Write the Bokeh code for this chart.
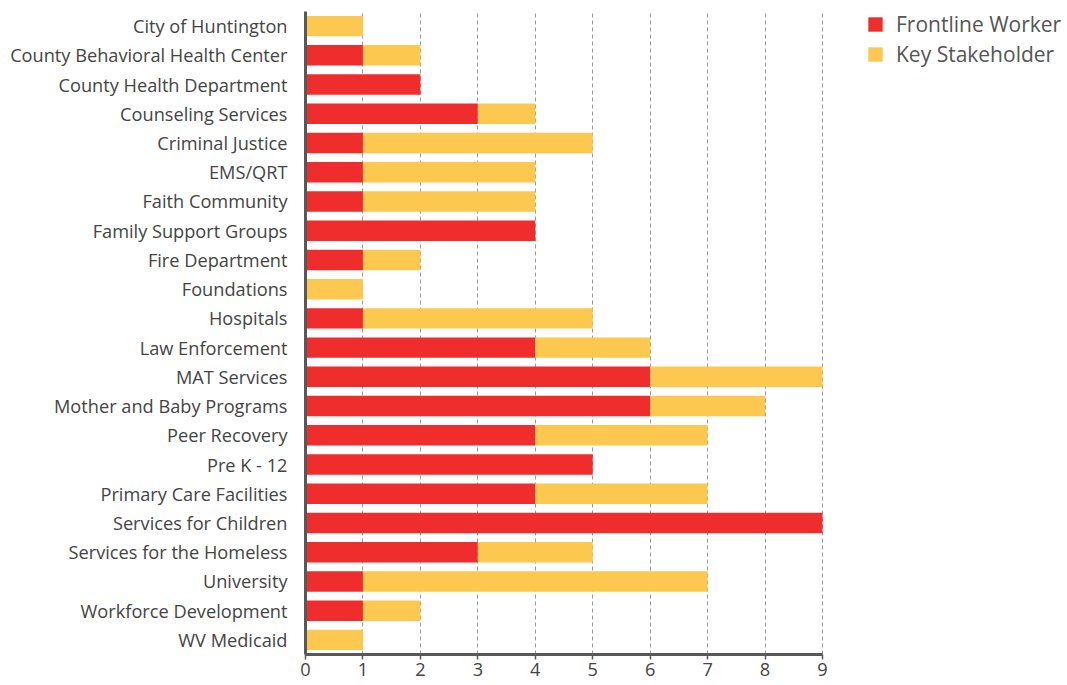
from bokeh.plotting import figure
from bokeh.models import FactorRange, Range1d, Legend, LegendItem
from bokeh.embed import file_html
from bokeh.resources import INLINE

categories = [
    "City of Huntington", "County Behavioral Health Center", "County Health Department",
    "Counseling Services", "Criminal Justice", "EMS/QRT", "Faith Community",
    "Family Support Groups", "Fire Department", "Foundations", "Hospitals",
    "Law Enforcement", "MAT Services", "Mother and Baby Programs", "Peer Recovery",
    "Pre K - 12", "Primary Care Facilities", "Services for Children",
    "Services for the Homeless", "University", "Workforce Development", "WV Medicaid",
]
frontline = [0, 1, 2, 3, 1, 1, 1, 4, 1, 0, 1, 4, 6, 6, 4, 5, 4, 9, 3, 1, 1, 0]
stakeholder = [1, 1, 0, 1, 4, 3, 3, 0, 1, 1, 4, 2, 3, 2, 3, 0, 3, 0, 2, 6, 1, 1]
series = ["Frontline Worker", "Key Stakeholder"]
colors = ["#EF2D2D", "#FCC84F"]
x_ticks = [0, 1, 2, 3, 4, 5, 6, 7, 8, 9]

FONT = "Open Sans"
TEXT = "#444444"
AXIS = "#585858"

W, H = 1067, 685
LEFT, TOP, BOTTOM = 305, 11, 31
AXIS_PX = 517          # pixel length of the 0..9 axis
frame_w = W - LEFT
x_max = max(x_ticks)
x_end = x_max * frame_w / AXIS_PX   # frame extends right to hold the legend

p = figure(
    width=W, height=H,
    y_range=FactorRange(factors=list(reversed(categories))),
    x_range=Range1d(0, x_end),
    output_backend="svg", toolbar_location=None,
    min_border_left=LEFT, min_border_right=0, min_border_top=TOP, min_border_bottom=BOTTOM,
)
p.outline_line_color = None

data = {"cat": categories, series[0]: frontline, series[1]: stakeholder}
renderers = p.hbar_stack(series, y="cat", height=0.7, color=colors, source=data,
                         line_color=None)

p.ygrid.grid_line_color = None
p.xgrid.grid_line_color = "#9a9a9a"
p.xgrid.grid_line_dash = "4 3"
p.xgrid.grid_line_width = 1
p.xaxis.ticker = x_ticks
p.xaxis.bounds = (0, x_max)

for ax in (p.xaxis[0], p.yaxis[0]):
    ax.axis_line_color = AXIS
    ax.axis_line_width = 3
    ax.major_label_text_font = FONT
    ax.major_label_text_font_size = "18.2px"
    ax.major_label_text_color = TEXT
    ax.minor_tick_line_color = None

p.yaxis.major_tick_line_color = None
p.yaxis.major_label_standoff = 12
p.xaxis.major_tick_line_color = AXIS
p.xaxis.major_tick_line_width = 1.5
p.xaxis.major_tick_out = 5
p.xaxis.major_tick_in = 0
p.xaxis.major_label_standoff = 3

legend = Legend(
    items=[LegendItem(label=s, renderers=[r]) for s, r in zip(series, renderers)],
    location=(561, 586),
    label_text_font=FONT, label_text_font_size="21px", label_text_color="#555555",
    glyph_width=18, glyph_height=18, label_standoff=12, spacing=2,
    border_line_color=None, background_fill_alpha=0, padding=0, margin=0,
)
p.add_layout(legend, "center")

open("out.html", "w").write(file_html(p, INLINE))
